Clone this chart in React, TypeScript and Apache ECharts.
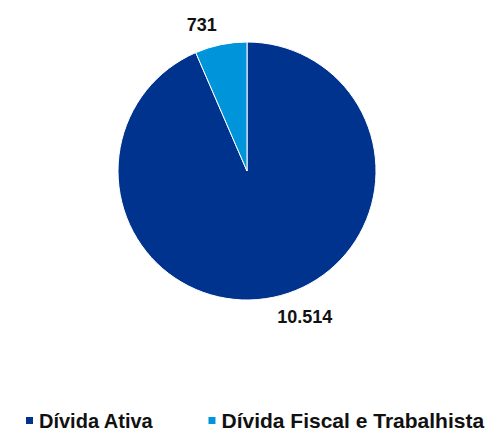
import React, { useEffect, useRef } from "react";
import * as echarts from "echarts";

const categories: string[] = ["Dívida Ativa", "Dívida Fiscal e Trabalhista"];
const values: number[] = [10514, 731];
const colors: string[] = ["#00338D", "#0095DA"];
const legendFontSizes: number[] = [20, 21];

function fmt(v: number): string {
  return String(Math.round(v)).replace(/\B(?=(\d{3})+(?!\d))/g, ".");
}

export default function App() {
  const ref = useRef<HTMLDivElement>(null);
  useEffect(() => {
    document.body.style.margin = "0";
    if (!ref.current) return;
    const chart = echarts.init(ref.current, undefined, { renderer: "svg" });
    chart.setOption({
      animation: false,
      backgroundColor: "#ffffff",
      color: colors,
      legend: {
        show: true,
        left: 24,
        bottom: 0,
        width: 466,
        padding: 0,
        icon: "rect",
        itemWidth: 9,
        itemHeight: 9,
        itemGap: 53,
        textStyle: {
          fontFamily: "Liberation Sans, Arial, sans-serif",
          fontSize: 20,
          fontWeight: "bold",
          color: "#111111",
        },
        data: categories.map((c, i) => ({
          name: c,
          textStyle: { fontSize: legendFontSizes[i] },
        })),
      },
      series: [
        {
          type: "pie",
          center: [247, 171],
          radius: 129,
          startAngle: 90,
          clockwise: true,
          avoidLabelOverlap: false,
          itemStyle: { borderColor: "#ffffff", borderWidth: 1 },
          label: {
            show: true,
            position: "outside",
            distanceToLabelLine: 0,
            formatter: (p: any) => fmt(p.value),
            fontFamily: "Liberation Sans, Arial, sans-serif",
            fontSize: 18,
            fontWeight: "bold",
            color: "#111111",
          },
          labelLine: { show: false, length: 20, length2: 0 },
          emphasis: { disabled: true },
          data: categories.map((c, i) => ({ name: c, value: values[i] })),
        },
      ],
    });
    return () => chart.dispose();
  }, []);
  return <div ref={ref} style={{ width: 490, height: 431 }} />;
}
